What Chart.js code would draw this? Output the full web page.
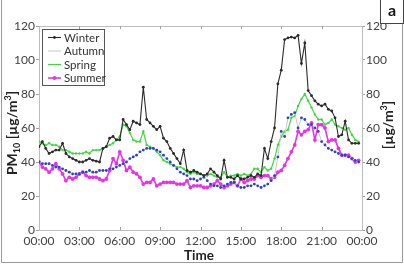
<!DOCTYPE html>
<html lang="en">
<head>
  <meta charset="UTF-8" />
  <title>PM10 diurnal profile by season</title>
  <script src="https://cdn.jsdelivr.net/npm/chart.js"></script>
  <style>
    html, body {
      margin: 0;
      padding: 0;
      background: #ffffff;
    }
    #wrap {
      position: relative;
      width: 404px;
      height: 265px;
    }
  </style>
</head>
<body>
  <div id="wrap"><canvas id="pmChart" width="404" height="265"></canvas></div>

  <script>
    // quarter-hour averages, 00:00 ... 23:45
    const tickLabels = ['00:00', '03:00', '06:00', '09:00', '12:00', '15:00', '18:00', '21:00', '00:00'];
    const seasons = ['Winter', 'Autumn', 'Spring', 'Summer'];

    const winter = [
      49, 52, 48, 45,   46, 47, 47, 51,   45, 43, 42, 41,   40, 40, 41, 42,
      41, 40.5, 40, 48, 49, 54, 55, 53,   53, 65, 62, 59,   64, 63, 62, 84,
      65, 63, 61, 59,   61, 54, 52, 48,   45, 42, 39, 47,   35, 34, 35, 34,
      33, 32, 33, 36,   34, 32, 30, 41,   31, 31, 30, 32,   30, 30, 31, 32,
      31, 33, 32, 48,   42, 52, 60, 86,   94, 112, 113, 113.5, 113, 114.5, 98, 110,
      82, 79, 76, 74,   73, 74, 71, 70,   66, 55, 56, 64,   53, 51, 51, 51
    ];
    const autumn = [
      40, 39, 39, 39,   38, 37, 37, 36,   35, 34, 33, 33,   33, 34, 34, 35,
      34, 34, 35, 35,   35, 36, 36, 37,   38, 39, 40, 42,   43, 44, 46, 47,
      48, 48, 48, 47,   46, 44, 42, 40,   38, 36, 34, 33,   32, 30, 30, 29,
      30, 31, 29, 27,   26, 26, 25, 26,   27, 28, 28, 26,   25, 25, 26, 26,
      27, 26, 25, 26,   27, 29, 32, 43,   58, 55, 66, 68,   69, 60, 66, 65,
      62, 62, 60, 58,   52, 50, 48, 47,   46, 45, 44, 44,   43, 42, 41, 40
    ];
    const spring = [
      52, 51, 50, 51,   50, 50, 49, 47,   47, 46, 45, 45,   45, 45, 46, 45,
      47, 47, 47, 48,   49, 50, 51, 53,   55, 62, 61, 57,   53, 52, 52, 58,
      50, 49, 48, 46,   44, 41, 40, 39,   38, 37, 37, 36,   34, 33, 34, 33,
      33, 32, 32, 33,   32, 31, 31, 34,   31, 32, 32, 33,   32, 33, 32, 33,
      36, 36, 34, 37,   35, 36, 42, 50,   55, 58, 59, 66,   67, 73, 77, 80,
      76, 72, 68, 65,   65, 62, 63, 65,   62, 61, 60, 59,   60, 56, 53, 52
    ];
    const summer = [
      40, 37, 36, 34,   36, 39, 36, 33,   29, 31, 30, 31,   33, 34, 32, 31,
      31, 31, 30, 29,   30, 35, 42, 39,   46, 41, 35, 37,   34, 33, 31, 27,
      28, 28, 30, 26,   27, 28, 28, 28,   28, 27, 27, 27,   29, 25, 26, 26,
      26, 25, 25, 26,   27, 29, 27, 25,   26, 27, 28, 26,   30, 28, 29, 30,
      30, 32, 31, 32,   32, 30, 31, 34,   35, 38, 42, 46,   50, 58, 56, 58,
      59, 63, 53, 62,   62, 60, 52, 53,   53, 48, 44, 44,   44, 42, 40, 41
    ];

    const toPoints = arr => arr.map((v, i) => ({ x: i / 4, y: v }));

    const FONT = 'Lato, "Open Sans", sans-serif';
    const TEXT = '#404040';
    const FRAME = '#bdbdbd';

    // legend, axis titles, frame and the little "a" box
    const decor = {
      id: 'decor',
      afterDraw(chart) {
        const ctx = chart.ctx;
        const a = chart.chartArea;
        const xs = chart.scales.x;
        ctx.save();

        // top edge of plot
        ctx.strokeStyle = FRAME;
        ctx.lineWidth = 1;
        ctx.beginPath();
        ctx.moveTo(a.left, a.top + 0.5);
        ctx.lineTo(a.right, a.top + 0.5);
        ctx.stroke();

        // inward x ticks, bottom and top
        ctx.strokeStyle = '#a0a0a0';
        ctx.beginPath();
        for (let h = 3; h < 24; h += 3) {
          const px = Math.round(xs.getPixelForValue(h)) + 0.5;
          ctx.moveTo(px, a.bottom); ctx.lineTo(px, a.bottom - 3);
          ctx.moveTo(px, a.top); ctx.lineTo(px, a.top + 3);
        }
        ctx.stroke();

        // legend box
        const lx = 42, ly = 29, lw = 62, lh = 56;
        ctx.fillStyle = '#fff';
        ctx.fillRect(lx, ly, lw, lh);
        ctx.strokeStyle = '#555';
        ctx.strokeRect(lx + 0.5, ly + 0.5, lw, lh);
        ctx.font = '11.5px ' + FONT;
        ctx.textBaseline = 'middle';
        chart.data.datasets.forEach((ds, i) => {
          const yy = ly + 8.5 + i * 13.5;
          ctx.strokeStyle = ds.borderColor;
          ctx.lineWidth = ds.borderWidth;
          ctx.beginPath();
          ctx.moveTo(lx + 6, yy);
          ctx.lineTo(lx + 19, yy);
          ctx.stroke();
          if (ds.legendMarker) {
            ctx.fillStyle = ds.pointBackgroundColor;
            ctx.beginPath();
            ctx.arc(lx + 12.5, yy, ds.pointRadius, 0, Math.PI * 2);
            ctx.fill();
          }
          ctx.fillStyle = '#333';
          ctx.fillText(ds.label, lx + 22, yy + 0.5);
        });

        // rotated titles with sub/superscripts
        const rich = (cx, cy, parts) => {
          ctx.save();
          ctx.translate(cx, cy);
          ctx.rotate(-Math.PI / 2);
          ctx.textBaseline = 'alphabetic';
          ctx.fillStyle = '#222';
          let total = 0;
          parts.forEach(p => {
            ctx.font = 'bold ' + p.size + 'px ' + FONT;
            p.w = ctx.measureText(p.t).width;
            total += p.w;
          });
          let x = -total / 2;
          parts.forEach(p => {
            ctx.font = 'bold ' + p.size + 'px ' + FONT;
            ctx.fillText(p.t, x, 5 + p.dy);
            x += p.w;
          });
          ctx.restore();
        };
        rich(12, 133, [
          { t: 'PM', size: 14, dy: 0 },
          { t: '10', size: 9, dy: 3 },
          { t: ' [µg/m', size: 14, dy: 0 },
          { t: '3', size: 9, dy: -6 },
          { t: ']', size: 14, dy: 0 }
        ]);
        rich(388, 125, [
          { t: '[µg/m', size: 14, dy: 0 },
          { t: '3', size: 9, dy: -6 },
          { t: ']', size: 14, dy: 0 }
        ]);

        // x title
        ctx.font = 'bold 13.5px ' + FONT;
        ctx.fillStyle = '#222';
        ctx.textAlign = 'center';
        ctx.textBaseline = 'middle';
        ctx.fillText('Time', 199, 256);

        // outer frame
        ctx.strokeStyle = '#9a9a9a';
        ctx.lineWidth = 1;
        ctx.beginPath();
        ctx.moveTo(1.5, 0); ctx.lineTo(1.5, 262.5); ctx.lineTo(402.5, 262.5); ctx.lineTo(402.5, 0);
        ctx.stroke();

        // panel letter
        ctx.fillStyle = '#fff';
        ctx.fillRect(380, 0, 23, 24);
        ctx.strokeStyle = '#444';
        ctx.strokeRect(380.5, -1, 23, 24.5);
        ctx.fillStyle = '#111';
        ctx.font = 'bold 16px ' + FONT;
        ctx.fillText('a', 392, 11);

        ctx.restore();
      }
    };

    const yTicks = {
      min: 0,
      max: 120,
      ticks: { stepSize: 20, color: TEXT, font: { family: FONT, size: 12 }, padding: 1 },
      grid: { display: true, drawOnChartArea: false, drawTicks: true, tickLength: 3, color: '#a0a0a0' },
      border: { display: true, color: FRAME }
    };

    new Chart(document.getElementById('pmChart'), {
      type: 'line',
      data: {
        datasets: [
          {
            label: seasons[0], data: toPoints(winter),
            borderColor: '#2b2b2b', backgroundColor: '#2b2b2b', pointBackgroundColor: '#2b2b2b',
            borderWidth: 1.1, pointRadius: 1.4, pointBorderWidth: 0, legendMarker: true
          },
          {
            label: seasons[1], data: toPoints(autumn),
            borderColor: '#c8c8c8', backgroundColor: '#2a3fd6', pointBackgroundColor: '#2a3fd6',
            borderWidth: 1, pointRadius: 1.4, pointBorderWidth: 0, legendMarker: false
          },
          {
            label: seasons[2], data: toPoints(spring),
            borderColor: '#3fd83f', backgroundColor: '#3fd83f', pointBackgroundColor: '#3fd83f',
            borderWidth: 1.2, pointRadius: 1.2, pointBorderWidth: 0, legendMarker: false
          },
          {
            label: seasons[3], data: toPoints(summer),
            borderColor: '#e832e8', backgroundColor: '#e832e8', pointBackgroundColor: '#e832e8',
            borderWidth: 1.6, pointRadius: 1.9, pointBorderWidth: 0, legendMarker: true
          }
        ]
      },
      options: {
        responsive: false,
        animation: false,
        layout: { padding: { top: 26, left: 0, right: 0, bottom: 0 } },
        plugins: { legend: { display: false }, tooltip: { enabled: false } },
        elements: { line: { tension: 0 } },
        scales: {
          x: {
            type: 'linear',
            min: 0,
            max: 24,
            ticks: {
              stepSize: 3,
              color: TEXT,
              font: { family: FONT, size: 12 },
              padding: 4,
              maxRotation: 0,
              callback: v => tickLabels[v / 3]
            },
            grid: { display: false, drawTicks: false },
            border: { display: true, color: FRAME },
            afterFit: s => { s.height = 35; }
          },
          y: Object.assign({ position: 'left', afterFit: s => { s.width = 39; } }, yTicks),
          y2: Object.assign({ position: 'right', afterFit: s => { s.width = 42; } }, yTicks)
        }
      },
      plugins: [decor]
    });
  </script>
</body>
</html>
